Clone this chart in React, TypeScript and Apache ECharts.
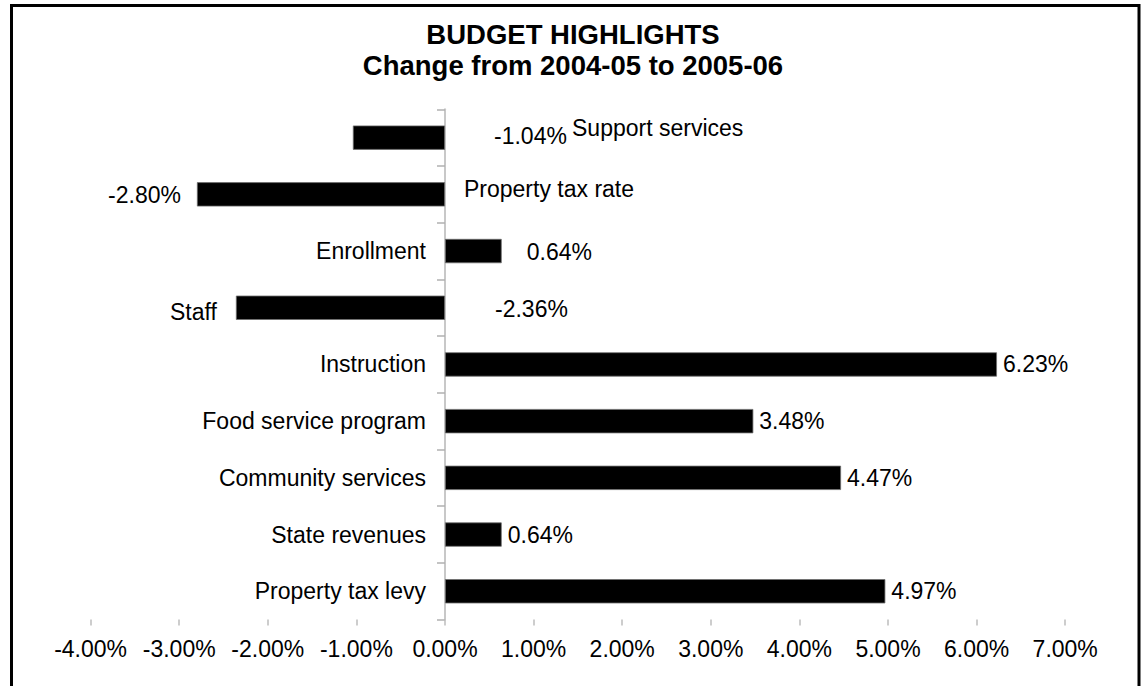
import React, { useEffect, useRef } from "react";
import * as echarts from "echarts";

// ---- data ----
const categories = [
  "Property tax levy",
  "State revenues",
  "Community services",
  "Food service program",
  "Instruction",
  "Staff",
  "Enrollment",
  "Property tax rate",
  "Support services",
];
const changePct = [4.97, 0.64, 4.47, 3.48, 6.23, -2.36, 0.64, -2.8, -1.04];
const xMin = -4;
const xMax = 7;
const xStep = 1;
const titleLines = ["BUDGET HIGHLIGHTS", "Change from 2004-05 to 2005-06"];

// ---- label placement (style only) ----
const valueLabelPlacement: Record<string, any> = {
  "Support services": { position: "right", distance: 49, offset: [0, -1.5] },
  "Property tax rate": { position: "left", distance: 16, offset: [0, 1] },
  Enrollment: { position: "right", distance: 25, offset: [0, 1] },
  Staff: { position: "right", distance: 50, offset: [0, 1.5] },
};
const defaultNamePlacement = { position: "left", distance: 19, offset: [0, 0] };
const nameLabelPlacement: Record<string, any> = {
  "Support services": { position: "right", distance: 127, offset: [0, -9.5] },
  "Property tax rate": { position: "right", distance: 19, offset: [0, -5] },
  Staff: { position: "left", distance: 19, offset: [0, 4] },
};

const FONT = "'Liberation Sans', Arial, Helvetica, sans-serif";
const fmtPct = (v: number) => v.toFixed(2) + "%";

export default function App() {
  const ref = useRef<HTMLDivElement>(null);

  useEffect(() => {
    if (!ref.current) return;
    const chart = echarts.init(ref.current, undefined, { renderer: "svg" });

    const textStyle = { fontFamily: FONT, fontSize: 23, color: "#000" };

    const barData = categories.map((c, i) => {
      const p = valueLabelPlacement[c];
      return {
        value: changePct[i],
        label: p ? { ...p } : undefined,
      };
    });

    const nameData = categories.map((c, i) => {
      const p = nameLabelPlacement[c] || defaultNamePlacement;
      return {
        value: changePct[i],
        label: { show: true, ...p, formatter: () => c },
      };
    });

    chart.setOption({
      animation: false,
      backgroundColor: "#fff",
      title: {
        text: titleLines.join("\n"),
        left: "center",
        top: 14,
        textStyle: {
          fontFamily: FONT,
          fontSize: 27.5,
          fontWeight: "bold",
          color: "#000",
          lineHeight: 31,
        },
      },
      graphic: [
        {
          type: "rect",
          shape: { x: 11.5, y: 5.5, width: 1127.5, height: 720 },
          style: { fill: "none", stroke: "#000", lineWidth: 3 },
          silent: true,
        },
      ],
      grid: {
        left: 90.6,
        right: 80.8,
        top: 109.3,
        bottom: 66.4,
        containLabel: false,
        outerBoundsMode: "none",
      },
      xAxis: {
        type: "value",
        min: xMin,
        max: xMax,
        interval: xStep,
        axisLine: { show: false },
        axisTick: { show: true, length: 6, lineStyle: { color: "#bdbdbd", width: 1.5 } },
        splitLine: { show: false },
        axisLabel: {
          ...textStyle,
          margin: 18,
          formatter: (v: number) => fmtPct(v),
        },
      },
      yAxis: {
        type: "category",
        data: categories,
        axisLine: { show: true, onZero: true, lineStyle: { color: "#c8c8c8", width: 2 } },
        axisTick: { show: true, length: 8, lineStyle: { color: "#b0b0b0", width: 1.5 } },
        axisLabel: { show: false },
      },
      series: [
        {
          type: "bar",
          data: barData,
          barWidth: 24.3,
          itemStyle: { color: "#000", borderColor: "#6e6e6e", borderWidth: 0.8 },
          label: {
            show: true,
            position: "right",
            distance: 6,
            ...textStyle,
            formatter: (p: any) => fmtPct(p.value),
          },
          z: 2,
        },
        {
          type: "bar",
          data: nameData,
          barWidth: 24.3,
          barGap: "-100%",
          itemStyle: { color: "rgba(0,0,0,0)" },
          label: { ...textStyle },
          silent: true,
          z: 3,
        },
      ],
    });

    return () => chart.dispose();
  }, []);

  return (
    <div
      ref={ref}
      style={{ position: "fixed", left: 0, top: 0, width: 1146, height: 686, background: "#fff" }}
    />
  );
}
